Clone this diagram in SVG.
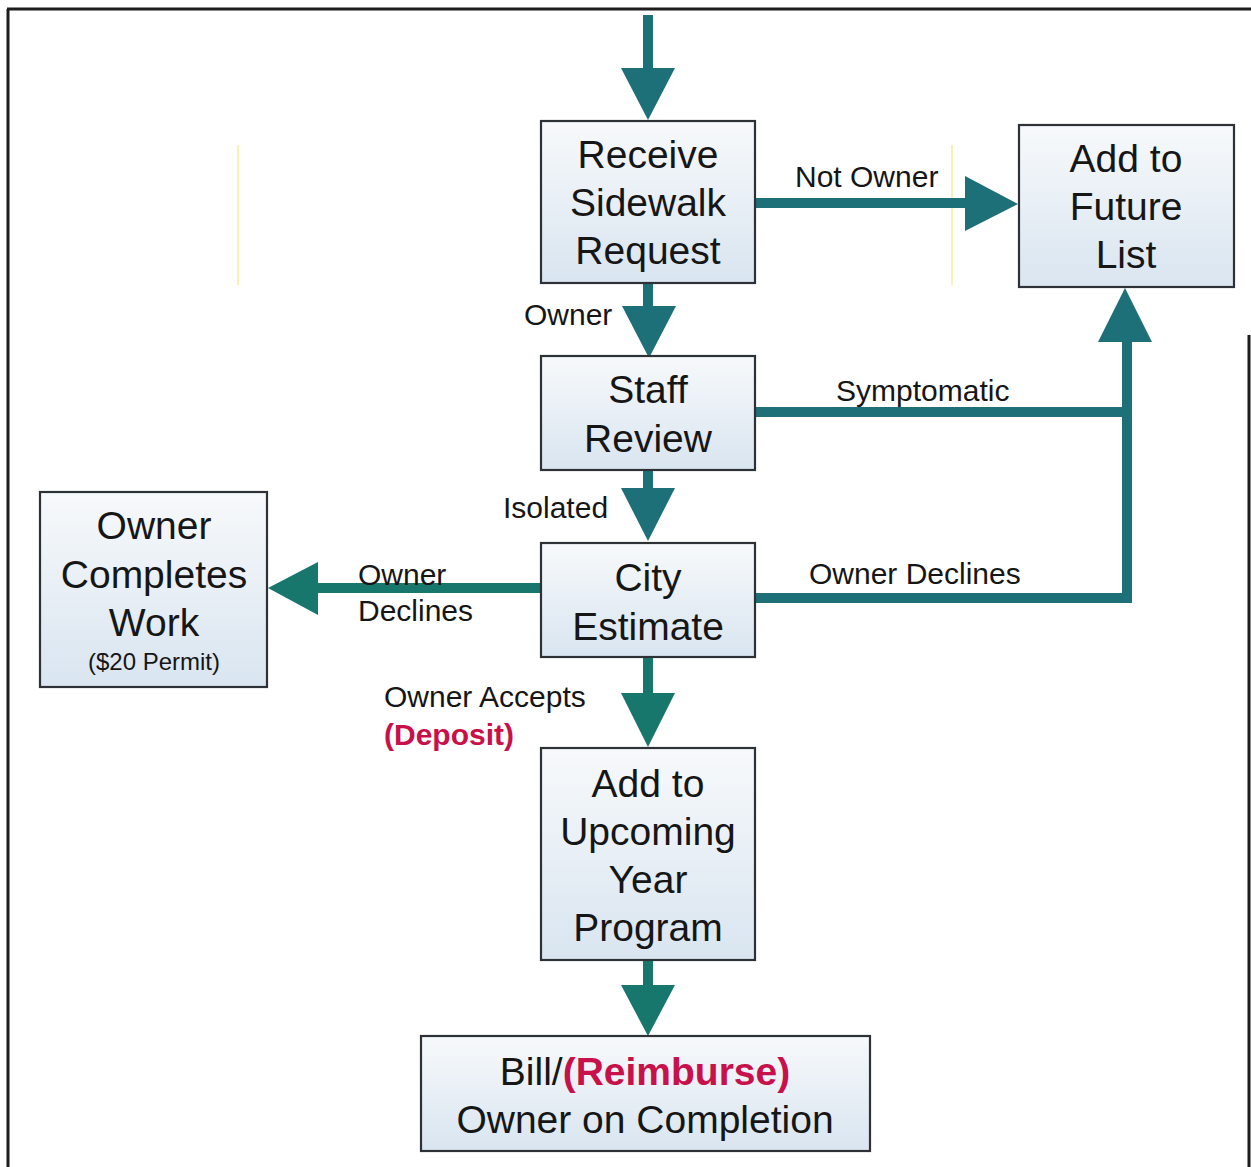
<svg xmlns="http://www.w3.org/2000/svg" width="1251" height="1167" viewBox="0 0 1251 1167">
<defs>
<linearGradient id="boxfill" x1="0" y1="0" x2="0" y2="1">
<stop offset="0" stop-color="#f7f9fb"/>
<stop offset="1" stop-color="#d9e5f0"/>
</linearGradient>
<style>
.box{fill:url(#boxfill);stroke:#2e3236;stroke-width:2.2}
.t{font-family:"Liberation Sans",Arial,sans-serif;fill:#161616;text-anchor:middle}
.big{font-size:39px}
.lbl{font-family:"Liberation Sans",Arial,sans-serif;fill:#161616;font-size:30px}
.red{fill:#c8104a;font-weight:bold}
.line{stroke:#1d6f78;stroke-width:10;fill:none}
.head{fill:#1d6f78}
.line2{stroke:#17776c;stroke-width:10;fill:none}
.head2{fill:#17776c}
</style>
</defs>
<rect x="0" y="0" width="1251" height="1167" fill="#ffffff"/>
<g id="frame" stroke="#1c1c1c" stroke-width="3" fill="none">
<line x1="7" y1="9" x2="1251" y2="9"/>
<line x1="8" y1="9" x2="8" y2="1167"/>
<line x1="1249" y1="335" x2="1249" y2="1167"/>
</g>
<g id="artifacts" stroke="#f4ef9a" stroke-width="1.5">
<line x1="238" y1="145" x2="238" y2="285"/>
<line x1="952" y1="145" x2="952" y2="285"/>
</g>
<g id="connectors">
<line class="line" x1="648" y1="15" x2="648" y2="72"/>
<polygon class="head" points="621,68 675,68 648,120"/>
<line class="line" x1="648" y1="283" x2="648" y2="310"/>
<polygon class="head" points="622,306 676,306 649,358"/>
<line class="line" x1="755" y1="203" x2="968" y2="203"/>
<polygon class="head" points="965,176 965,231 1018,204"/>
<line class="line" x1="648" y1="470" x2="648" y2="492"/>
<polygon class="head" points="621,488 675,488 648,541"/>
<polyline class="line" points="755,412 1125,412"/>
<polyline class="line" points="755,598 1127,598 1127,336"/>
<polygon class="head" points="1098,342 1152,342 1125,288"/>
<line class="line2" x1="541" y1="588" x2="314" y2="588"/>
<polygon class="head2" points="318,562 318,615 268,588"/>
<line class="line2" x1="648" y1="657" x2="648" y2="697"/>
<polygon class="head2" points="621,693 675,693 648,747"/>
<line class="line2" x1="648" y1="960" x2="648" y2="989"/>
<polygon class="head2" points="621,985 675,985 648,1036"/>
</g>
<g id="labels">
<text class="lbl" x="795" y="187">Not Owner</text>
<text class="lbl" x="524" y="325">Owner</text>
<text class="lbl" x="836" y="401">Symptomatic</text>
<text class="lbl" x="503" y="518">Isolated</text>
<text class="lbl" x="809" y="584">Owner Declines</text>
<text class="lbl" x="358" y="585">Owner</text>
<text class="lbl" x="358" y="621">Declines</text>
<text class="lbl" x="384" y="707">Owner Accepts</text>
<text class="lbl red" x="384" y="745">(Deposit)</text>
</g>
<g id="receive">
<rect class="box" x="541" y="121" width="214" height="162"/>
<text class="t big" x="648" y="168">Receive</text>
<text class="t big" x="648" y="216">Sidewalk</text>
<text class="t big" x="648" y="264">Request</text>
</g>
<g id="future">
<rect class="box" x="1019" y="125" width="215" height="162"/>
<text class="t big" x="1126" y="172">Add to</text>
<text class="t big" x="1126" y="220">Future</text>
<text class="t big" x="1126" y="268">List</text>
</g>
<g id="staff">
<rect class="box" x="541" y="356" width="214" height="114"/>
<text class="t big" x="648" y="403">Staff</text>
<text class="t big" x="648" y="452">Review</text>
</g>
<g id="city">
<rect class="box" x="541" y="543" width="214" height="114"/>
<text class="t big" x="648" y="591">City</text>
<text class="t big" x="648" y="640">Estimate</text>
</g>
<g id="owner-completes">
<rect class="box" x="40" y="492" width="227" height="195"/>
<text class="t big" x="154" y="539">Owner</text>
<text class="t big" x="154" y="588">Completes</text>
<text class="t big" x="154" y="636">Work</text>
<text class="t" x="154" y="670" style="font-size:24px">($20 Permit)</text>
</g>
<g id="upcoming">
<rect class="box" x="541" y="748" width="214" height="212"/>
<text class="t big" x="648" y="797">Add to</text>
<text class="t big" x="648" y="845">Upcoming</text>
<text class="t big" x="648" y="893">Year</text>
<text class="t big" x="648" y="941">Program</text>
</g>
<g id="bill">
<rect class="box" x="421" y="1036" width="449" height="115"/>
<text class="t big" x="645" y="1085">Bill/<tspan class="red">(Reimburse)</tspan></text>
<text class="t big" x="645" y="1133">Owner on Completion</text>
</g>
</svg>
